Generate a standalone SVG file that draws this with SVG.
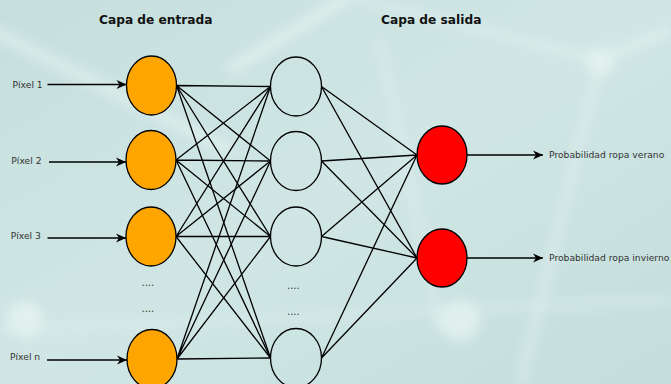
<svg xmlns="http://www.w3.org/2000/svg" width="671" height="384" viewBox="0 0 671 384">
<defs>
<filter id="blur" x="-20%" y="-20%" width="140%" height="140%"><feGaussianBlur stdDeviation="6"/></filter>
<linearGradient id="bg" x1="0" y1="0" x2="1" y2="1">
<stop offset="0" stop-color="#c6dfdd"/>
<stop offset="0.5" stop-color="#cfe6e4"/>
<stop offset="1" stop-color="#c4dedc"/>
</linearGradient>
<marker id="arr" viewBox="-11 -5 12 10" refX="0" refY="0" markerWidth="12" markerHeight="10" markerUnits="userSpaceOnUse" orient="auto">
<path d="M0,0 L-10,-4.5 L-7,0 L-10,4.5 Z" fill="#000"/>
</marker>
<style>
.title{font-family:"DejaVu Sans",sans-serif;font-weight:bold;font-size:12.2px;fill:#111}
.lbl{font-family:"DejaVu Sans",sans-serif;font-size:9.2px;fill:#333}
.dots{font-family:"DejaVu Sans",sans-serif;font-size:10px;fill:#333}
.in{fill:#ffa500;stroke:#000;stroke-width:1.3}
.hid{fill:none;stroke:#000;stroke-width:1.3}
.out{fill:#ff0000;stroke:#000;stroke-width:1.3}
.c{stroke:#000;stroke-width:1.3;fill:none}
.a{stroke:#000;stroke-width:1.4;fill:none;marker-end:url(#arr)}
</style>
</defs>
<rect x="0" y="0" width="671" height="384" fill="url(#bg)"/>
<g filter="url(#blur)" stroke="#eef8f7" fill="none" opacity="0.55">
<path d="M-10,30 L230,150" stroke-width="10"/>
<path d="M230,70 L360,-10" stroke-width="12"/>
<path d="M360,0 L600,60" stroke-width="6"/>
<path d="M600,60 L671,30" stroke-width="8"/>
<path d="M600,60 L520,384" stroke-width="6"/>
<path d="M380,40 L440,330" stroke-width="5"/>
<circle cx="600" cy="62" r="14" fill="#f4fbfa" stroke="none"/>
<circle cx="460" cy="320" r="20" fill="#f4fbfa" stroke="none"/>
<circle cx="25" cy="320" r="18" fill="#f4fbfa" stroke="none"/>
<path d="M0,330 L671,300" stroke-width="4"/>
</g>
<text class="title" x="99" y="24">Capa de entrada</text>
<text class="title" x="381" y="24">Capa de salida</text>
<g id="connectors">
<path class="a" d="M47.5,84.5 H126.5"/>
<path class="a" d="M49,162 H126"/>
<path class="a" d="M47.5,238 H126"/>
<path class="a" d="M47,360 H127"/>
<path class="a" d="M467,155 H543"/>
<path class="a" d="M467,258 H543"/>
<path class="c" d="M176.5,85.5 L270.5,86.5 M176.5,85.5 L270.5,161 M176.5,85.5 L270.5,236.5 M176.5,85.5 L270.5,358"/>
<path class="c" d="M176,160 L270.5,86.5 M176,160 L270.5,161 M176,160 L270.5,236.5 M176,160 L270.5,358"/>
<path class="c" d="M176,236.5 L270.5,86.5 M176,236.5 L270.5,161 M176,236.5 L270.5,236.5 M176,236.5 L270.5,358"/>
<path class="c" d="M177,359 L270.5,86.5 M177,359 L270.5,161 M177,359 L270.5,236.5 M177,359 L270.5,358"/>
<path class="c" d="M321.5,86.5 L417,155 M321.5,86.5 L417,258 M321.5,161 L417,155 M321.5,161 L417,258 M321.5,236.5 L417,155 M321.5,236.5 L417,258 M321.5,358 L417,155 M321.5,358 L417,258"/>
</g>
<g id="in1"><ellipse class="in" cx="151.5" cy="85.5" rx="25" ry="29.5"/><text class="lbl" x="12.5" y="87.5">Píxel 1</text></g>
<g id="in2"><ellipse class="in" cx="151" cy="160" rx="25" ry="29.5"/><text class="lbl" x="11.3" y="164">Píxel 2</text></g>
<g id="in3"><ellipse class="in" cx="151" cy="236.5" rx="25" ry="29.5"/><text class="lbl" x="10.7" y="238.5">Píxel 3</text></g>
<g id="in-dots"><text class="dots" x="141.5" y="286">....</text><text class="dots" x="141.5" y="312">....</text></g>
<g id="inN"><ellipse class="in" cx="152" cy="359" rx="25" ry="29.5"/><text class="lbl" x="10" y="359.5">Píxel n</text></g>
<g id="h1"><ellipse class="hid" cx="296" cy="86.5" rx="25.5" ry="29.5"/></g>
<g id="h2"><ellipse class="hid" cx="296" cy="161" rx="25.5" ry="29.5"/></g>
<g id="h3"><ellipse class="hid" cx="296" cy="236.5" rx="25.5" ry="29.5"/></g>
<g id="h-dots"><text class="dots" x="287" y="288.5">....</text><text class="dots" x="287" y="314.5">....</text></g>
<g id="h4"><ellipse class="hid" cx="296" cy="358" rx="25.5" ry="29.5"/></g>
<g id="o1"><ellipse class="out" cx="442" cy="155" rx="25" ry="29"/><text class="lbl" x="549" y="157.5">Probabilidad ropa verano</text></g>
<g id="o2"><ellipse class="out" cx="442" cy="258" rx="25" ry="29"/><text class="lbl" x="549" y="260.5">Probabilidad ropa invierno</text></g>
</svg>
